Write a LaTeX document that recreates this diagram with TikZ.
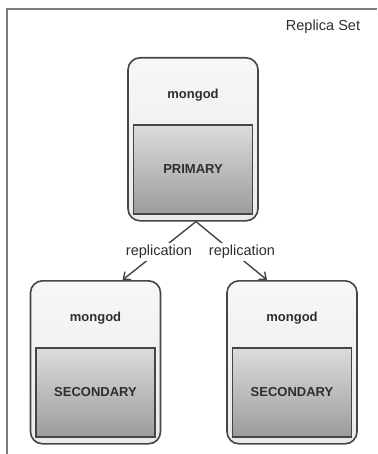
\documentclass[tikz,border=0pt]{standalone}
\usepackage{fontspec}
\setmainfont{Liberation Sans}
\usetikzlibrary{arrows.meta}
\definecolor{framecol}{HTML}{7A7A7A}
\definecolor{boxline}{HTML}{454545}
\definecolor{txtcol}{HTML}{2E2E2E}
\definecolor{outtop}{HTML}{F7F7F7}
\definecolor{outbot}{HTML}{EAEAEA}
\definecolor{intop}{HTML}{DCDCDC}
\definecolor{inbot}{HTML}{9C9C9C}
\tikzset{
  outerbox/.style={draw=boxline, line width=1.6pt, rounded corners=12pt,
    top color=outtop, bottom color=outbot, minimum width=130pt,
    minimum height=163pt, anchor=north, inner sep=0pt},
  innerbox/.style={draw=boxline, line width=1.6pt, top color=intop,
    bottom color=inbot, minimum width=119pt, minimum height=89pt,
    anchor=south, inner sep=0pt, text=txtcol,
    font=\fontsize{13}{15}\selectfont\bfseries},
  mtext/.style={text=txtcol, font=\fontsize{13}{15}\selectfont\bfseries},
  reptext/.style={text=txtcol, fill=white, inner sep=2pt,
    font=\fontsize{14.5}{16}\selectfont},
  arr/.style={draw=boxline, line width=1.4pt,
    -{Straight Barb[length=6pt,width=10pt,line width=1.4pt]}},
}
\begin{document}
\begin{tikzpicture}[x=1pt,y=-1pt]
\useasboundingbox (0,0) rectangle (377,454);
% frame
\coordinate (fbl) at (7,454);
\coordinate (ftl) at (7,9);
\coordinate (ftr) at (377,9);
\draw[framecol, line width=1.3pt] (fbl) -- (ftl) -- (ftr);
\node[text=txtcol, font=\fontsize{14.5}{16}\selectfont] (title) at (323,27) {Replica Set};
% primary
\node[outerbox] (p) at (193,57) {};
\node[innerbox] (pi) at ([yshift=7pt]p.south) {PRIMARY};
\node[mtext] (pm) at ([yshift=-38pt]p.north) {mongod};
% secondary left
\node[outerbox] (s1) at (95.5,280) {};
\node[innerbox] (s1i) at ([yshift=7pt]s1.south) {SECONDARY};
\node[mtext] (s1m) at ([yshift=-38pt]s1.north) {mongod};
% secondary right
\node[outerbox] (s2) at (292,280) {};
\node[innerbox] (s2i) at ([yshift=7pt]s2.south) {SECONDARY};
\node[mtext] (s2m) at ([yshift=-38pt]s2.north) {mongod};
% connectors
\draw[arr] ([xshift=3pt]p.south) -- ([xshift=27pt]s1.north);
\draw[arr] ([xshift=3pt]p.south) -- ([xshift=-25pt]s2.north);
\node[reptext] (l1) at (159,252) {replication};
\node[reptext] (l2) at (242,252) {replication};
\end{tikzpicture}
\end{document}
